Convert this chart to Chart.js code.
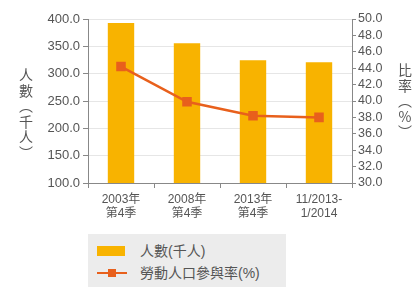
<html>
<head>
<script src="https://cdn.jsdelivr.net/npm/chart.js"></script>
<style>
body { margin:0; background:#fff; }
#wrap { position:relative; width:418px; height:287px; }
#legend { position:absolute; left:88px; top:234px; width:198px; height:53px; background:#ececec;
  font-family:"Liberation Sans","Noto Sans CJK TC",sans-serif; font-size:14px; color:#555; }
#legend div { position:absolute; left:9px; height:18px; line-height:18px; }
.sw { display:inline-block; position:absolute; left:0; }
</style>
</head>
<body>
<div id="wrap">
<canvas id="myChart" width="418" height="287"></canvas>
<div id="legend">
  <div style="top:8px"><span class="sw" style="top:4px;width:28px;height:10px;background:#f8b300"></span><span style="margin-left:43px">人數(千人)</span></div>
  <div style="top:30px"><span class="sw" style="top:8px;width:30px;height:2px;background:#e8601c"></span><span class="sw" style="top:5px;left:11px;width:8px;height:8px;background:#e8601c"></span><span style="margin-left:43px">勞動人口參與率(%)</span></div>
</div>
</div>
<script>
labels = [['2003年','第4季'], ['2008年','第4季'], ['2013年','第4季'], ['11/2013-','1/2014']]
people = [392.5, 355.5, 324.5, 321.0]
rate = [44.2, 39.9, 38.2, 38.0]

font = { family: '"Liberation Sans","Noto Sans CJK TC",sans-serif', size: 12 }
txt = '#555'

// vertical axis titles, stacked upright
sideTitles = {
  id: 'sideTitles',
  afterDraw(chart) {
    const ctx = chart.ctx
    ctx.save()
    ctx.fillStyle = txt
    ctx.font = '14px "Noto Sans CJK TC",sans-serif'
    ctx.textAlign = 'center'
    ctx.textBaseline = 'middle'
    const left = ['人','數','︵','千','人','︶']
    left.forEach((c, i) => ctx.fillText(c, 26, 75 + i*15.5))
    const right = ['比','率','︵','%','︶']
    right.forEach((c, i) => ctx.fillText(c, 405, 70 + i*15.5))
    ctx.restore()
  }
}

new Chart(document.getElementById('myChart'), {
  data: {
    labels: labels,
    datasets: [
      { type: 'line', label: '勞動人口參與率(%)', data: rate, yAxisID: 'y2',
        borderColor: '#e8601c', backgroundColor: '#e8601c', borderWidth: 2.5,
        pointStyle: 'rect', pointRadius: 5, tension: 0, order: 0 },
      { type: 'bar', label: '人數(千人)', data: people, yAxisID: 'y',
        backgroundColor: '#f8b300', barPercentage: 0.4, categoryPercentage: 1, order: 1 }
    ]
  },
  options: {
    responsive: false,
    animation: false,
    layout: { padding: { top: 19, bottom: 51 } },
    plugins: { legend: { display: false }, tooltip: { enabled: false } },
    scales: {
      x: {
        offset: true,
        grid: { offset: true, drawOnChartArea: false, tickLength: 5, color: '#888' },
        border: { color: '#888' },
        ticks: { color: txt, font: font, maxRotation: 0, padding: 4 },
        afterFit(s) { s.height = 53 }
      },
      y: {
        position: 'left', min: 100, max: 400,
        ticks: { stepSize: 50, color: txt, font: { ...font, size: 13 }, callback: v => v.toFixed(1), padding: 3 },
        grid: { color: '#e6e6e6', tickLength: 5, tickColor: '#888' },
        border: { color: '#888' },
        afterFit(s) { s.width = 88 }
      },
      y2: {
        position: 'right', min: 30, max: 50,
        ticks: { stepSize: 2, autoSkip: false, color: txt, font: { ...font, size: 12.5 }, callback: v => v.toFixed(1), padding: 2 },
        grid: { drawOnChartArea: false, tickLength: 4, color: '#888' },
        border: { color: '#888' },
        afterFit(s) { s.width = 66 }
      }
    }
  },
  plugins: [sideTitles]
})
</script>
</body>
</html>
